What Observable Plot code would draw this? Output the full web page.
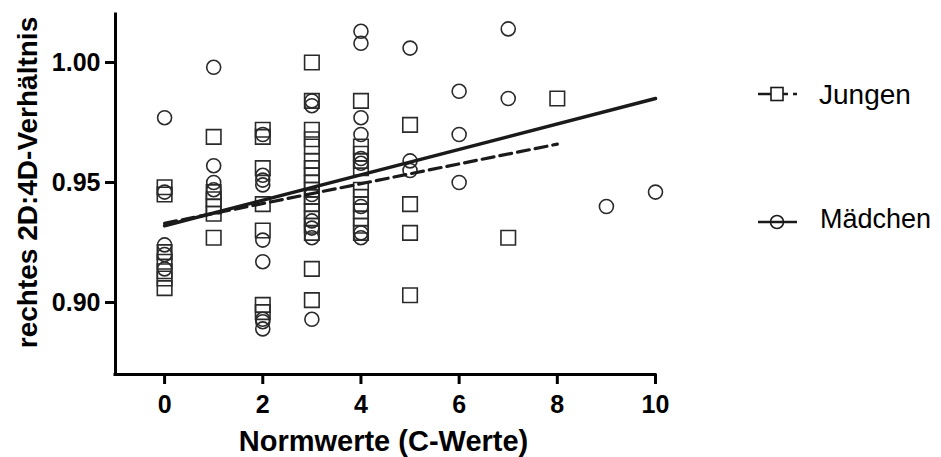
<!DOCTYPE html>
<html><head><meta charset="utf-8">
<script src="https://cdn.jsdelivr.net/npm/d3@7"></script>
<script src="https://cdn.jsdelivr.net/npm/@observablehq/plot@0.6"></script>
<style>
body{margin:0;background:#fff}
#wrap{position:relative;width:941px;height:457px;font-family:'Liberation Sans',Arial,sans-serif}
#legend{position:absolute;left:0;top:0}
</style>
</head><body><div id="wrap"></div>
<script>
// Jungen (squares): C-Wert and right 2D:4D ratio
const jungenC = [0,0,0,0,0,0,0, 1,1,1,1,1,1, 2,2,2,2,2,2,2,
  3,3,3,3,3,3,3,3,3,3,3,3,3,3,3,3,3,3,
  4,4,4,4,4,4,4,4,4,4,4,4, 5,5,5,5, 7, 8];
const jungenRatio = [0.948,0.945,0.921,0.917,0.913,0.910,0.906,
  0.969,0.946,0.943,0.940,0.937,0.927,
  0.972,0.969,0.956,0.941,0.930,0.899,0.896,
  1.000,0.984,0.972,0.968,0.965,0.959,0.956,0.953,0.950,0.947,0.944,0.941,0.938,0.935,0.932,0.929,0.914,0.901,
  0.984,0.965,0.962,0.959,0.956,0.947,0.944,0.941,0.938,0.935,0.932,0.929,
  0.974,0.941,0.929,0.903, 0.927, 0.985];
// Mädchen (circles)
const maedchenC = [0,0,0,0,0, 1,1,1,1, 2,2,2,2,2,2,2,2,2,
  3,3,3,3,3,3,3, 4,4,4,4,4,4,4,4,4, 5,5,5, 6,6,6, 7,7, 9, 10];
const maedchenRatio = [0.977,0.946,0.924,0.920,0.914,
  0.998,0.957,0.950,0.947,
  0.970,0.953,0.951,0.949,0.926,0.917,0.893,0.889,0.892,
  0.984,0.982,0.945,0.934,0.931,0.927,0.893,
  1.013,1.008,0.977,0.970,0.960,0.958,0.940,0.929,0.927,
  1.006,0.959,0.955,
  0.988,0.970,0.950,
  1.014,0.985,
  0.940,
  0.946];
// regression lines
const fitJungenC = [0, 8];
const fitJungenRatio = [0.933, 0.966];
const fitMaedchenC = [0, 10];
const fitMaedchenRatio = [0.932, 0.985];

const xTicks = [0, 2, 4, 6, 8, 10];
const yTicks = [0.90, 0.95, 1.00];
const xTitle = "Normwerte (C-Werte)";
const yTitle = "rechtes 2D:4D-Verhältnis";
const seriesNames = ["Jungen", "Mädchen"];

const jungen = jungenC.map((c, i) => ({c, r: jungenRatio[i]}));
const maedchen = maedchenC.map((c, i) => ({c, r: maedchenRatio[i]}));
const fitJ = fitJungenC.map((c, i) => ({c, r: fitJungenRatio[i]}));
const fitM = fitMaedchenC.map((c, i) => ({c, r: fitMaedchenRatio[i]}));

const ink = "#1a1a1a";
const plot = Plot.plot({
  width: 941, height: 457,
  marginLeft: 115, marginRight: 286, marginTop: 14, marginBottom: 83,
  x: {domain: [-1, 10]},
  y: {domain: [0.87, 1.02]},
  style: {fontFamily: "'Liberation Sans', Arial, sans-serif", background: "#fff", color: "#000"},
  marks: [
    Plot.axisX({ticks: xTicks, tickSize: 10, tickPadding: 11, strokeWidth: 3, fontSize: 25, fontWeight: "bold", label: null}),
    Plot.axisY({ticks: yTicks, tickSize: 10, tickPadding: 5, strokeWidth: 3, tickFormat: d => d.toFixed(2), fontSize: 25, fontWeight: "bold", label: null}),
    Plot.ruleX([-1], {strokeWidth: 3, strokeLinecap: "square"}),
    Plot.ruleY([0.87], {strokeWidth: 3, strokeLinecap: "square"}),
    Plot.dot(jungen, {x: "c", y: "r", symbol: "square", r: 8.2, stroke: "#2a2a2a", strokeWidth: 1.6, fill: "none"}),
    Plot.dot(maedchen, {x: "c", y: "r", symbol: "circle", r: 7, stroke: "#2a2a2a", strokeWidth: 1.6, fill: "none"}),
    Plot.line(fitJ, {x: "c", y: "r", stroke: ink, strokeWidth: 3.2, strokeDasharray: "12,6"}),
    Plot.line(fitM, {x: "c", y: "r", stroke: ink, strokeWidth: 3.5}),
    Plot.text([yTitle], {frameAnchor: "left", textAnchor: "middle", lineAnchor: "middle", rotate: -90, dx: -87, dy: -12, fontSize: 28, fontWeight: "bold", fill: "#000"}),
    Plot.text([xTitle], {frameAnchor: "bottom", textAnchor: "middle", lineAnchor: "middle", dx: -2, dy: 67, fontSize: 29, fontWeight: "bold", fill: "#000"})
  ]
});
const wrap = document.getElementById("wrap");
wrap.appendChild(plot);

// legend
const leg = d3.select(wrap).append("svg").attr("id", "legend").attr("width", 941).attr("height", 457);
const gJ = leg.append("g").attr("transform", "translate(0,94)");
gJ.append("line").attr("x1", 758).attr("x2", 771).attr("y1", 0).attr("y2", 0).attr("stroke", ink).attr("stroke-width", 2.5);
gJ.append("line").attr("x1", 783).attr("x2", 797).attr("y1", 0).attr("y2", 0).attr("stroke", ink).attr("stroke-width", 2.5).attr("stroke-dasharray", "5,5");
gJ.append("rect").attr("x", 771).attr("y", -6.5).attr("width", 12).attr("height", 13).attr("fill", "#fff").attr("stroke", ink).attr("stroke-width", 1.6);
gJ.append("text").attr("x", 819).attr("y", 10).attr("font-size", 28).attr("fill", "#000").text(seriesNames[0]);
const gM = leg.append("g").attr("transform", "translate(0,222)");
gM.append("line").attr("x1", 758).attr("x2", 797).attr("y1", 0).attr("y2", 0).attr("stroke", ink).attr("stroke-width", 2.5);
gM.append("circle").attr("cx", 777).attr("cy", 0).attr("r", 6.5).attr("fill", "none").attr("stroke", ink).attr("stroke-width", 1.6);
gM.append("text").attr("x", 820).attr("y", 6).attr("font-size", 27).attr("fill", "#000").text(seriesNames[1]);
</script>
</body></html>
